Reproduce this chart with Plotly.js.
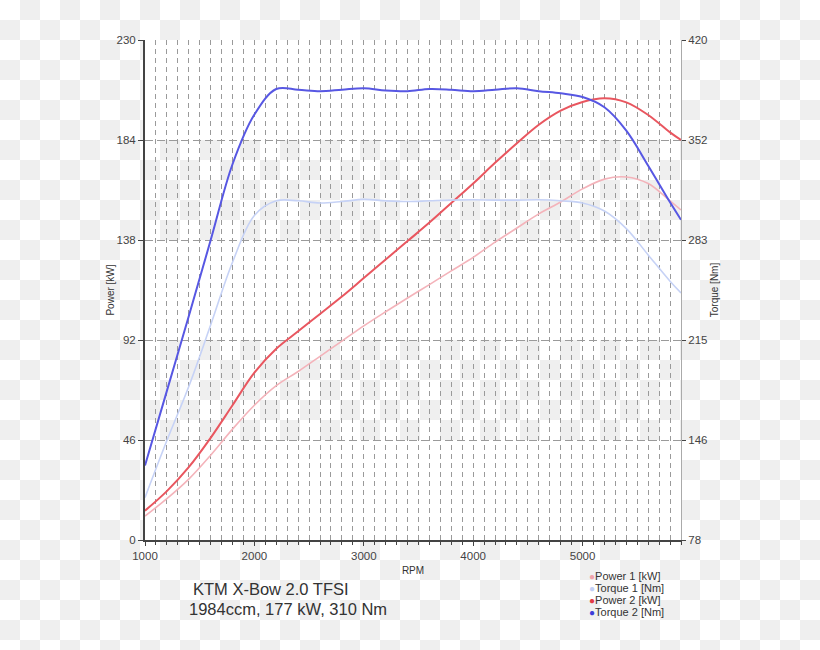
<!DOCTYPE html>
<html>
<head>
<meta charset="utf-8">
<script src="https://cdn.plot.ly/plotly-3.0.1.min.js"></script>
<style>
  html, body { margin: 0; padding: 0; }
  body {
    width: 820px; height: 650px; overflow: hidden;
    background: repeating-conic-gradient(#efefef 0% 25%, #ffffff 0% 50%) 0 0 / 40px 40px;
  }
  #chart { width: 820px; height: 650px; }
</style>
</head>
<body>
<div id="chart"></div>
<script>
// ---- data ----
const rpm     = [1000,1200,1400,1600,1800,2000,2200,2400,2600,2800,3000,3200,3400,3600,3800,4000,4200,4400,4600,4800,5000,5200,5400,5600,5800,5900];
const power1  = [11,19,28,39,51,62,71,77.5,84.5,91.5,98.5,105,111.3,117.5,123.8,130,137,143.5,150,155.5,161.5,166,167,164,156,151.8];
const torque1 = [107,146,183,225,268,300,310,310,308.5,309.5,311,310,309.5,310,310.5,310.7,310.5,310.5,310.7,310,308.5,303,291,273,255,247];
const power2  = [13.5,22.5,33.5,47,62,77,88,96,104,112,120.5,129,137.5,146,155,164,173.5,182.5,191,197.5,201.5,203.2,201.3,195.5,187.5,184];
const torque2 = [129,180,231,283,335,369,386.5,386,385,386,387,385.5,385,386.5,386,385,386,387,385,383.5,381,374,358,334,309,297];

const powerTicks  = [0,46,92,138,184,230];
const torqueTicks = [78,146.4,214.8,283.2,351.6,420];
const torqueTickText = ['78','146','215','283','352','420'];
const seriesNames = ['Power 1 [kW]','Torque 1 [Nm]','Power 2 [kW]','Torque 2 [Nm]'];
const lineColors  = ['#f4b3ba','#c6d2f6','#e9565f','#5757e3'];
const dotColors   = ['#f0a3ab','#c3d0f5','#e23a45','#3c3cd8'];
const titleLines  = ['KTM X-Bow 2.0 TFSI','1984ccm, 177 kW, 310 Nm'];

// ---- layout geometry ----
const L = 145, R = 139, T = 40, B = 110, W = 820, H = 650;
const pw = W - L - R, ph = H - T - B;
const px2x = p => (p - L) / pw;
const py2y = p => (T + ph - p) / ph;

const FONT = 'Liberation Sans, Arial, sans-serif';

const traces = [
  {x: rpm, y: power1,  yaxis: 'y',  name: seriesNames[0], line: {color: lineColors[0], width: 1.6, shape: 'spline'}},
  {x: rpm, y: torque1, yaxis: 'y2', name: seriesNames[1], line: {color: lineColors[1], width: 1.6, shape: 'spline'}},
  {x: rpm, y: power2,  yaxis: 'y',  name: seriesNames[2], line: {color: lineColors[2], width: 2, shape: 'spline'}},
  {x: rpm, y: torque2, yaxis: 'y2', name: seriesNames[3], line: {color: lineColors[3], width: 2, shape: 'spline'}}
].map(t => Object.assign(t, {mode: 'lines', hoverinfo: 'x+y+name'}));

// white alternating bands in the plot area
const bands = [[0,46],[92,138],[184,230]].map(b => ({
  type: 'rect', xref: 'paper', yref: 'y', x0: 0, x1: 1, y0: b[0], y1: b[1],
  fillcolor: '#ffffff', line: {width: 0}, layer: 'below'
}));

const annotations = [];
annotations.push({xref:'paper', yref:'paper', x: px2x(191), y: py2y(589), xanchor:'left', yanchor:'middle',
  text: titleLines[0], showarrow:false, font:{family:FONT, size:16.5, color:'#333'}});
annotations.push({xref:'paper', yref:'paper', x: px2x(187), y: py2y(609), xanchor:'left', yanchor:'middle',
  text: titleLines[1], showarrow:false, font:{family:FONT, size:16.5, color:'#333'}});
seriesNames.forEach((n, i) => {
  annotations.push({xref:'paper', yref:'paper', x: px2x(587), y: py2y(576 + 12*i), xanchor:'left', yanchor:'middle',
    text: '<span style="color:' + dotColors[i] + ';font-size:10px">●</span>' + n,
    showarrow:false, font:{family:FONT, size:11, color:'#333'}});
});

const layout = {
  width: W, height: H,
  margin: {l: L, r: R, t: T, b: B, pad: 0},
  paper_bgcolor: 'rgba(0,0,0,0)',
  plot_bgcolor: 'rgba(0,0,0,0)',
  showlegend: false,
  font: {family: FONT, size: 11, color: '#444'},
  xaxis: {
    range: [1000, 5900], tickvals: [1000,2000,3000,4000,5000], ticktext: ['1000','2000','3000','4000','5000'],
    showgrid: true, gridcolor: '#9a9a9a', gridwidth: 1, griddash: '5px,4px',
    minor: {dtick: 100, tick0: 1000, showgrid: true, gridcolor: '#9a9a9a', gridwidth: 1, griddash: '5px,4px',
            ticks: 'outside', ticklen: 3, tickcolor: '#444'},
    ticks: 'outside', ticklen: 4, tickcolor: '#444',
    showline: true, linecolor: '#444', linewidth: 2, zeroline: false,
    tickfont: {family: FONT, size: 11.5, color: '#444'},
    title: {text: 'RPM', font: {family: FONT, size: 10, color: '#333'}, standoff: 6},
    fixedrange: true
  },
  yaxis: {
    range: [0, 230], tickvals: powerTicks, ticktext: powerTicks.map(String),
    showgrid: true, gridcolor: '#9a9a9a', gridwidth: 1, griddash: '8px,4px',
    ticks: 'outside', ticklen: 5, tickcolor: '#444',
    showline: true, linecolor: '#444', linewidth: 2, zeroline: false,
    tickfont: {family: FONT, size: 11.5, color: '#444'},
    title: {text: 'Power [kW]', font: {family: FONT, size: 10, color: '#333'}, standoff: 0},
    fixedrange: true
  },
  yaxis2: {
    overlaying: 'y', side: 'right', anchor: 'x',
    range: [78, 420], tickvals: torqueTicks, ticktext: torqueTickText,
    showgrid: false, ticks: 'outside', ticklen: 4, tickcolor: '#444',
    showline: true, linecolor: '#aaaaaa', linewidth: 1, zeroline: false,
    tickfont: {family: FONT, size: 11.5, color: '#444'},
    title: {text: 'Torque [Nm]', font: {family: FONT, size: 10, color: '#333'}, standoff: 4},
    fixedrange: true
  },
  shapes: bands,
  annotations: annotations
};

Plotly.newPlot('chart', traces, layout, {displayModeBar: false, staticPlot: true});
</script>
</body>
</html>
